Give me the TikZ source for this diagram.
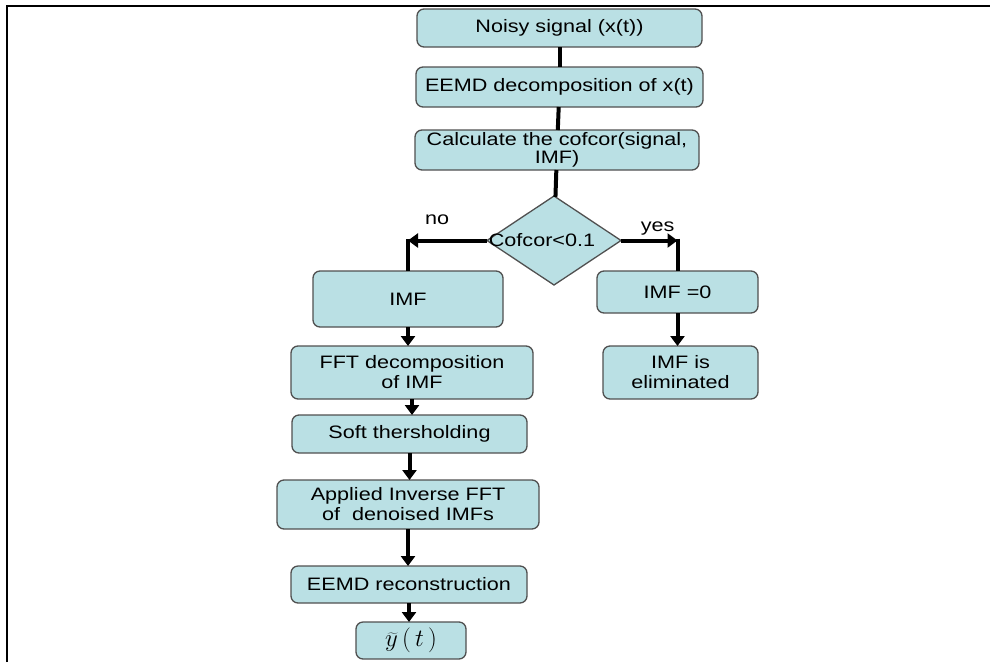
\documentclass[tikz,border=0pt]{standalone}
\usepackage{fontspec}
\setmainfont[FakeStretch=1.2]{Liberation Sans}
\usepackage{xcolor}
\usepackage{tikz}
\usetikzlibrary{shapes,arrows.meta,positioning}

\definecolor{boxfill}{RGB}{186,224,228}
\definecolor{boxline}{RGB}{80,80,80}

\begin{document}
\begin{tikzpicture}[
    x=1pt, y=1pt,
    proc/.style={draw=boxline, fill=boxfill, rectangle, rounded corners=7pt,
                 line width=1.3pt, align=center, inner sep=2pt, outer sep=0pt,
                 font=\fontsize{18}{20}\selectfont},
    decision/.style={draw=boxline, fill=boxfill, diamond, line width=1.3pt,
                     inner sep=0pt, outer sep=0pt, minimum width=134pt,
                     minimum height=89pt, font=\fontsize{18}{20}\selectfont},
    tag/.style={font=\fontsize{18}{20}\selectfont},
    link/.style={line width=4pt},
    arrow/.style={-{Triangle[width=14pt,length=10pt]}, line width=4pt},
    node distance=20pt
]
\useasboundingbox (0,0) rectangle (990,-662);

% frame
\draw[line width=2pt] (6.5,-662) -- (6.5,-5.5) -- (990,-5.5);

% main column
\node[proc, minimum width=285pt, minimum height=38pt] (sig) at (559.5,-28)
  {Noisy signal (x(t))};
\node[proc, minimum width=287pt, minimum height=40pt, below=20pt of sig] (eemd)
  {EEMD decomposition of x(t)};
\node[proc, minimum width=284pt, minimum height=40pt, below=23pt of eemd,
      xshift=-2.5pt, font=\fontsize{18}{18.5}\selectfont] (cof)
  {Calculate the cofcor(signal,\\IMF)};
\node[decision, below=26pt of cof, xshift=-3pt] (dec)
  {\makebox[0pt]{Cofcor<0.1\hspace{24pt}}};

% no branch
\node[proc, minimum width=190pt, minimum height=56pt] (imf) at (408,-299) {IMF};
\node[proc, minimum width=242pt, minimum height=53pt, below=19pt of imf,
      xshift=4pt] (fft) {FFT decomposition\\of IMF};
\node[proc, minimum width=235pt, minimum height=38pt, below=16pt of fft,
      xshift=-2.5pt] (soft) {Soft thersholding};
\node[proc, minimum width=262pt, minimum height=49pt, below=27pt of soft,
      xshift=-1.5pt] (ifft) {Applied Inverse FFT\\of\ \ denoised IMFs};
\node[proc, minimum width=236pt, minimum height=37pt, below=37pt of ifft,
      xshift=1pt] (recon) {EEMD reconstruction};
\node[proc, minimum width=110pt, minimum height=37pt, below=19pt of recon,
      xshift=2pt, font=\fontsize{24}{28}\selectfont] (out)
  {$\widetilde{y}\,(\,t\,)$};

% yes branch
\node[proc, minimum width=161pt, minimum height=42pt] (zero) at (677.5,-292) {IMF =0};
\node[proc, minimum width=155pt, minimum height=53pt, below=33pt of zero,
      xshift=3pt] (elim) {IMF is\\eliminated};

% connectors
\draw[link] (sig) -- (eemd);
\draw[link] (eemd) -- (cof);
\draw[link] (cof) -- (dec);
\draw[arrow] (dec.west) -- (dec.west -| imf.north)
  node[tag, above, pos=0.63, yshift=10pt] {no};
\draw[link] ([yshift=2pt]dec.west -| imf.north) -- (imf.north);
\draw[arrow] (dec.east) -- (dec.east -| zero.north)
  node[tag, above, pos=0.65] {yes};
\draw[link] ([yshift=2pt]dec.east -| zero.north) -- (zero.north);
\draw[arrow] (zero.south) -- (zero.south |- elim.north);
\draw[arrow] (imf.south) -- (imf.south |- fft.north);
\draw[arrow] (fft.south) -- (fft.south |- soft.north);
\draw[arrow] (soft.south) -- (soft.south |- ifft.north);
\draw[arrow] (ifft.south) -- (ifft.south |- recon.north);
\draw[arrow] (recon.south) -- (recon.south |- out.north);

\end{tikzpicture}
\end{document}
